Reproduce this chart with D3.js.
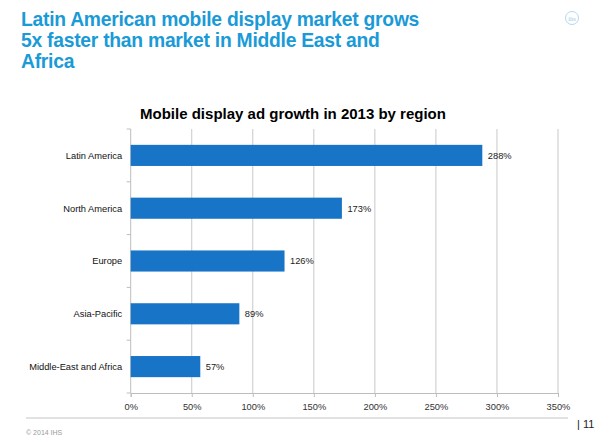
<!DOCTYPE html>
<html><head><meta charset="utf-8">
<script src="https://cdn.jsdelivr.net/npm/d3@7"></script>
<style>body{margin:0;background:#fff;} svg{display:block;font-family:"Liberation Sans",Arial,sans-serif;}</style>
</head><body>
<svg id="c" width="595" height="446"></svg>
<script>
const categories = ["Latin America","North America","Europe","Asia-Pacific","Middle-East and Africa"];
const values = [288,173,126,89,57];
const valueLabels = ["288%","173%","126%","89%","57%"];
const xTicks = [0,50,100,150,200,250,300,350];
const titleLines = ["Latin American mobile display market grows","5x faster than market in Middle East and","Africa"];
const chartTitle = "Mobile display ad growth in 2013 by region";

const svg = d3.select("#c");
const m = {left:130.7, right:558, top:129, bottom:393};
const x = d3.scaleLinear().domain([0,350]).range([m.left,m.right]);
const y = d3.scaleBand().domain(categories).range([m.top,m.bottom]).paddingInner(0.6).paddingOuter(0.3);

// title
svg.append("g").selectAll("text").data(titleLines).join("text")
  .attr("x",21).attr("y",(d,i)=>26+i*21)
  .attr("font-size",19.3).attr("font-weight","bold").attr("fill","#1a9ad6")
  .attr("letter-spacing",-0.25)
  .text(d=>d);

// logo
const lg = svg.append("g").attr("transform","translate(572,18)");
lg.append("circle").attr("r",6.5).attr("fill","none").attr("stroke","#b5d9ee").attr("stroke-width",1);
lg.append("text").attr("text-anchor","middle").attr("y",2.5).attr("font-size",6.5).attr("fill","#9ccbe6").attr("font-family","Liberation Serif,serif").text("ihs");

// chart title
svg.append("text").attr("x",293).attr("y",119).attr("text-anchor","middle")
  .attr("font-size",15).attr("font-weight","bold").attr("fill","#000").text(chartTitle);

// grid
svg.append("g").selectAll("line").data(xTicks.slice(1)).join("line")
  .attr("x1",d=>x(d)).attr("x2",d=>x(d)).attr("y1",m.top).attr("y2",m.bottom)
  .attr("stroke","#c8c8c8").attr("stroke-width",1);

// x axis
const xa = svg.append("g").attr("transform",`translate(0,${m.bottom})`)
  .call(d3.axisBottom(x).tickValues(xTicks).tickFormat(d=>d+"%").tickSize(4).tickPadding(6));
xa.select(".domain").attr("stroke","#bdbdbd");
xa.selectAll(".tick line").attr("stroke","#bdbdbd");
xa.selectAll("text").attr("font-size",9.3).attr("fill","#333").attr("font-family","Liberation Sans,Arial,sans-serif");

// y axis
const bounds = d3.range(categories.length+1).map(i=>m.top+i*(m.bottom-m.top)/categories.length);
const ya = svg.append("g");
ya.append("line").attr("x1",m.left).attr("x2",m.left).attr("y1",m.top).attr("y2",m.bottom).attr("stroke","#bdbdbd");
ya.selectAll("line.t").data(bounds).join("line").attr("class","t")
  .attr("x1",m.left-4).attr("x2",m.left).attr("y1",d=>d).attr("y2",d=>d).attr("stroke","#bdbdbd");

// bars
svg.append("g").selectAll("rect").data(values).join("rect")
  .attr("x",x(0)).attr("y",(d,i)=>y(categories[i]))
  .attr("width",d=>x(d)-x(0)).attr("height",y.bandwidth())
  .attr("fill","#1874c6");

// category labels
svg.append("g").selectAll("text").data(categories).join("text")
  .attr("x",m.left-8.5).attr("y",d=>y(d)+y.bandwidth()/2+3.4)
  .attr("text-anchor","end").attr("font-size",9.3).attr("fill","#111").text(d=>d);

// value labels
svg.append("g").selectAll("text").data(values).join("text")
  .attr("x",d=>x(d)+5.5).attr("y",(d,i)=>y(categories[i])+y.bandwidth()/2+3.4)
  .attr("font-size",9.3).attr("fill","#222").text((d,i)=>valueLabels[i]);

// footer
svg.append("line").attr("x1",26).attr("x2",568).attr("y1",418).attr("y2",418).attr("stroke","#e2e2e2").attr("stroke-width",2);
svg.append("text").attr("x",577).attr("y",428).attr("font-size",11).attr("fill","#222").text("| 11");
svg.append("text").attr("x",26).attr("y",435).attr("font-size",7).attr("fill","#999").text("© 2014 IHS");
</script>
</body></html>
